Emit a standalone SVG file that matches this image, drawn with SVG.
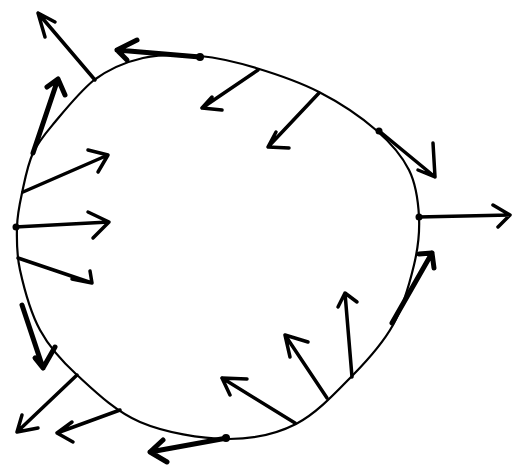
<svg xmlns="http://www.w3.org/2000/svg" width="512" height="465" viewBox="0 0 512 465">
<style>
.curve{fill:none;stroke:#000;stroke-width:2.2;stroke-linejoin:round}
.a{fill:none;stroke:#000;stroke-width:3.5;stroke-linecap:round;stroke-linejoin:round}
.t{stroke-width:5}
.dot{fill:#000}
</style>
<rect width="512" height="465" fill="#fff"/>
<path class="curve" d="M94,80 C108.7,69.3 125.3,62 143,58 C160.7,54 181.2,54.3 200,56 C218.8,57.7 236.2,62 256,68 C275.8,74 299,81.7 319,92 C339,102.3 361,117 376,130 C391,143 401.8,155.5 409,170 C416.2,184.5 418.2,201.2 419,217 C419.8,232.8 418.3,247 414,265 C409.7,283 403.2,306.7 393,325 C382.8,343.3 369.2,358.5 353,375 C336.8,391.5 317,413.3 296,424 C275,434.7 253,439.3 227,439 C201,438.7 165,432.7 140,422 C115,411.3 93.7,390.3 77,375 C60.3,359.7 49.5,347.5 40,330 C30.5,312.5 23.8,287.2 20,270 C16.2,252.8 16.7,239.8 17,227 C17.3,214.2 19.3,205.3 22,193 C24.7,180.7 27.5,164.8 33,153 C38.5,141.2 44.8,134.2 55,122 C65.2,109.8 79.3,92.2 94,80 Z"/>
<g id="arrows">
<g id="a1"><path class="a" d="M95,80 L38,13 M55,22 L38,13 L45,37"/></g>
<g id="a2"><path class="a t" d="M200,57 L117,50 M137,40 L117,50 L127,60"/><circle class="dot" cx="200" cy="57" r="4"/></g>
<g id="a3"><path class="a" d="M258,70 L202,108 M212,97 L202,108 L222,110"/></g>
<g id="a4"><path class="a t" d="M33,153 L58,79 M47,87 L58,79 L65,95"/></g>
<g id="a5"><path class="a" d="M23,192 L108,155 M88,150 L108,155 L98,172"/></g>
<g id="a6"><path class="a" d="M15,227 L109,222 M88,212 L109,222 L93,238"/><circle class="dot" cx="16" cy="227" r="3.5"/></g>
<g id="a7"><path class="a" d="M18,258 L92,283 M72,279 L92,283 L90,271"/></g>
<g id="a8"><path class="a t" d="M22,305 L43,368 M35,358 L43,368 L55,347"/></g>
<g id="a9"><path class="a" d="M77,375 L17,432 M22,415 L17,432 L38,428"/></g>
<g id="a10"><path class="a" d="M120,410 L57,433 M72,422 L57,433 L73,442"/></g>
<g id="a11"><path class="a t" d="M227,438 L150,452 M163,440 L150,452 L167,462"/><circle class="dot" cx="226" cy="438" r="4"/></g>
<g id="a12"><path class="a" d="M295,423 L222,378 M247,379 L222,378 L230,395"/></g>
<g id="a13"><path class="a" d="M327,398 L285,335 M308,342 L285,335 L290,357"/></g>
<g id="a14"><path class="a" d="M352,377 L345,293 M357,302 L345,293 L338,307"/></g>
<g id="a15"><path class="a t" d="M392,323 L432,253 M419,254 L432,253 L434,268"/></g>
<g id="a16"><path class="a" d="M418,217 L510,215 M493,205 L510,215 L498,227"/><circle class="dot" cx="419" cy="217" r="3.5"/></g>
<g id="a17"><path class="a" d="M378,130 L435,177 M433,143 L435,177 L418,170"/><circle class="dot" cx="379" cy="131" r="3.5"/></g>
<g id="a18"><path class="a" d="M319,93 L268,147 M276,132 L268,147 L289,148"/></g>
</g>
</svg>
